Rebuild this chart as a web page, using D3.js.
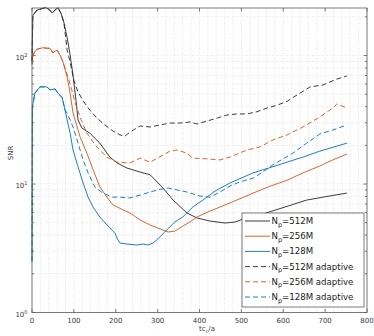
<!DOCTYPE html>
<html><head><meta charset="utf-8">
<script src="https://cdn.jsdelivr.net/npm/d3@7"></script>
<style>body{margin:0;background:#fff}svg{display:block}text{font-family:"DejaVu Sans",sans-serif}</style>
</head><body><svg id="c" width="374" height="336"></svg>
<script>
// ---- data (t c_s / a , SNR) ----
const seriesNames = ["512M", "256M", "128M", "512M adaptive", "256M adaptive", "128M adaptive"];
const xTicks = [0, 100, 200, 300, 400, 500, 600, 700, 800];
const yTicks = [1, 10, 100];

const head512 = [[0,90],[2,205],[12,226],[24,232],[33,236],[41,228],[48,214],[55,226],[62,236],[69,214],[76,182]];
const head256 = [[0,85],[2,100],[7,108],[12,112],[26,115],[36,114],[43,114],[50,105],[55,108],[60,110],[67,101],[74,89]];
const head128 = [[0,2.5],[1,40],[7,51],[19,57],[36,57],[43,54],[55,55],[62,51],[72,47],[79,37.6]];

const snr512 = head512.concat([[84,137],[91,101],[98,70],[105,45],[110,31.5],[119,27.3],[138,24.9],[162,20.8],[186,16.2],[203,14.6],[227,13.3],[258,12.4],[282,11.8],[313,9.3],[337,7.5],[370,5.95],[394,5.44],[425,5.15],[461,4.97],[485,5.06],[504,5.34],[551,5.84],[604,6.62],[656,7.5],[711,8.07],[752,8.5]]);
const snr256 = head256.concat([[84,68],[91,51],[98,35.7],[103,31.5],[115,23.2],[131,17.4],[146,12.9],[162,9.5],[179,7.9],[193,6.9],[217,6.3],[234,5.95],[258,5.25],[282,4.8],[306,4.47],[325,4.23],[341,4.3],[360,4.7],[377,5.06],[394,5.54],[425,6.16],[449,6.62],[489,7.5],[528,8.5],[568,9.6],[609,10.7],[647,12.2],[687,13.8],[718,15.4],[752,17.1]]);
const snr128 = head128.concat([[84,31.5],[91,24.9],[98,18.4],[110,13.6],[122,10.2],[134,7.9],[146,6.6],[162,5.54],[179,4.8],[198,4.15],[205,3.67],[210,3.47],[227,3.41],[251,3.35],[265,3.41],[277,3.35],[289,3.47],[298,3.67],[317,4.23],[329,4.63],[341,5.06],[360,5.54],[384,6.62],[408,7.5],[437,8.8],[473,10.2],[528,12.2],[568,13.4],[609,14.8],[647,16.2],[687,18.0],[752,20.8]]);
const snr512a = head512.concat([[84,110],[91,89],[100,64],[110,52],[124,43.5],[138,37.6],[155,32.6],[174,28.8],[193,25.9],[210,24.1],[222,23.6],[234,25.4],[258,28.3],[282,27.8],[306,28.8],[329,29.8],[353,29.8],[377,30.4],[394,29.3],[418,30.9],[442,32.6],[465,34.4],[489,35.1],[513,35.1],[537,36.5],[561,39],[585,41],[609,44],[633,49.3],[664,57],[695,59],[728,65.6],[752,69.3]]);
const snr256a = head256.concat([[86,68],[95,54],[103,43],[115,33],[131,24.9],[155,19.4],[179,16.2],[203,14.8],[227,14.6],[234,14.6],[258,15.9],[282,14.8],[313,16.8],[329,18.0],[346,18.4],[370,17.4],[384,15.9],[418,15.7],[449,15.4],[473,16.2],[513,18.4],[544,19.4],[575,22.0],[609,24.1],[647,27.8],[687,33.2],[718,39],[728,42],[752,39]]);
const snr128a = head128.concat([[84,35.7],[98,27.8],[110,20.8],[122,15.4],[134,12.2],[150,9.5],[169,8.5],[193,7.9],[210,7.9],[234,7.8],[258,8.2],[282,8.66],[306,9.1],[325,9.3],[346,9.0],[370,8.66],[401,8.07],[425,7.9],[449,8.66],[473,9.65],[497,10.4],[528,11.1],[551,12.4],[575,14.1],[623,17.4],[656,20.8],[687,24.5],[718,26.3],[752,28.8]]);
const seriesData = [snr512, snr256, snr128, snr512a, snr256a, snr128a];
const seriesColors = ["#262626", "#D95319", "#0072BD", "#262626", "#D95319", "#0072BD"];
const seriesDash = [null, null, null, "5,3", "5,3", "5,3"];

// ---- layout ----
const L = 32, R = 367, T = 8, B = 312.5;
const svg = d3.select("#c");
const x = d3.scaleLinear().domain([0, 800]).range([L, R]);
const y = d3.scaleLog().domain([1, 234.4]).range([B, T]);
const axisCol = "#5a5a5a", textCol = "#3a3a3a";

// grid
const g = svg.append("g");
const xMinor = d3.range(0, 801, 20);
g.selectAll(".gx").data(xMinor).join("line")
  .attr("x1", d => x(d)).attr("x2", d => x(d)).attr("y1", T).attr("y2", B)
  .attr("stroke", "#d4d4d4").attr("stroke-width", 0.6).attr("stroke-dasharray", "1,1.5");
const yMinor = [];
[1, 10, 100].forEach(dec => { for (let k = 1; k <= 9; k++) { const v = dec * k; if (v > 1 && v < 234) yMinor.push(v); } });
g.selectAll(".gy").data(yMinor).join("line")
  .attr("x1", L).attr("x2", R).attr("y1", d => y(d)).attr("y2", d => y(d))
  .attr("stroke", "#d4d4d4").attr("stroke-width", 0.6).attr("stroke-dasharray", "1,1.5");

// lines
const line = d3.line().x(d => x(d[0])).y(d => y(d[1]));
seriesData.forEach((s, i) => {
  svg.append("path").datum(s).attr("d", line).attr("fill", "none")
    .attr("stroke", seriesColors[i]).attr("stroke-width", 0.9)
    .attr("stroke-dasharray", seriesDash[i]);
});

// box and ticks
svg.append("rect").attr("x", L).attr("y", T).attr("width", R - L).attr("height", B - T)
  .attr("fill", "none").attr("stroke", axisCol).attr("stroke-width", 0.8);
const tk = svg.append("g").attr("stroke", axisCol).attr("stroke-width", 0.8);
xTicks.forEach(v => {
  tk.append("line").attr("x1", x(v)).attr("x2", x(v)).attr("y1", B).attr("y2", B - 3.5);
  tk.append("line").attr("x1", x(v)).attr("x2", x(v)).attr("y1", T).attr("y2", T + 3.5);
});
yTicks.forEach(v => {
  tk.append("line").attr("x1", L).attr("x2", L + 3.5).attr("y1", y(v)).attr("y2", y(v));
  tk.append("line").attr("x1", R).attr("x2", R - 3.5).attr("y1", y(v)).attr("y2", y(v));
});
yMinor.forEach(v => {
  if (yTicks.includes(v)) return;
  tk.append("line").attr("x1", L).attr("x2", L + 2).attr("y1", y(v)).attr("y2", y(v));
  tk.append("line").attr("x1", R).attr("x2", R - 2).attr("y1", y(v)).attr("y2", y(v));
});

// tick labels
svg.selectAll(".xl").data(xTicks).join("text")
  .attr("x", d => x(d)).attr("y", 323).attr("text-anchor", "middle")
  .attr("font-size", 7).attr("fill", textCol).text(d => d);
yTicks.forEach((v, i) => {
  const t = svg.append("text").attr("x", 27.5).attr("y", y(v) + 4).attr("text-anchor", "end")
    .attr("font-size", 7).attr("fill", textCol);
  t.append("tspan").text("10");
  t.append("tspan").attr("dy", -3).attr("font-size", 5).text(String(Math.round(Math.log10(v))));
});

// axis labels
svg.append("text").attr("transform", "translate(12.5,153) rotate(-90)").attr("text-anchor", "middle")
  .attr("font-size", 7).attr("fill", textCol).text("SNR");
const xl = svg.append("text").attr("x", 199).attr("y", 331).attr("font-size", 7).attr("fill", textCol);
xl.append("tspan").text("tc");
xl.append("tspan").attr("dy", 2).attr("font-size", 5).text("c");
xl.append("tspan").attr("dy", -2).text("/a");

// legend
const lg = svg.append("g");
lg.append("rect").attr("x", 242).attr("y", 213).attr("width", 122).attr("height", 94)
  .attr("fill", "#fff").attr("stroke", axisCol).attr("stroke-width", 0.8);
seriesNames.forEach((n, i) => {
  const yy = 221 + i * 15.2;
  lg.append("line").attr("x1", 245).attr("x2", 270).attr("y1", yy).attr("y2", yy)
    .attr("stroke", seriesColors[i]).attr("stroke-width", 0.9).attr("stroke-dasharray", seriesDash[i]);
  const t = lg.append("text").attr("x", 271.5).attr("y", yy + 3).attr("font-size", 8.6).attr("fill", "#1a1a1a");
  t.append("tspan").text("N");
  t.append("tspan").attr("dy", 2.5).attr("font-size", 6.5).text("p");
  t.append("tspan").attr("dy", -2.5).text("=" + n);
});
</script></body></html>
